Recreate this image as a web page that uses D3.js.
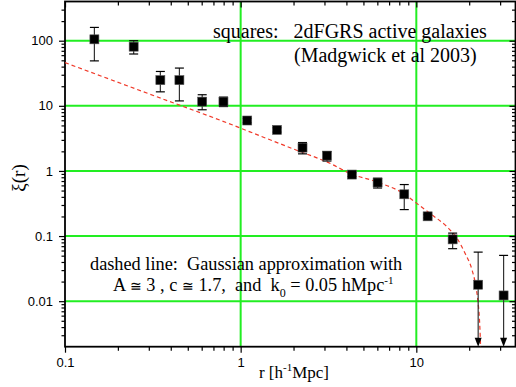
<!DOCTYPE html>
<html>
<head>
<meta charset="utf-8">
<script src="https://cdn.jsdelivr.net/npm/d3@7"></script>
<style>
  body { margin: 0; background: #fff; }
  svg { display: block; }
  .tick text { font-family: "Liberation Sans", Arial, sans-serif; font-size: 13px; fill: #000; }
  .serif { font-family: "Liberation Serif", "Times New Roman", serif; fill: #000; white-space: pre; }
</style>
</head>
<body>
<div id="chart"></div>
<script>
// squares: 2dFGRS active galaxies (Madgwick et al 2003)
const rVals  = [0.147, 0.246, 0.349, 0.448, 0.604, 0.798, 1.09, 1.61, 2.25, 3.10, 4.30, 6.02, 8.54, 11.6, 16.1, 22.5, 31.4];
const xiVals = [105, 81, 24.8, 24.8, 11.6, 11.6, 5.95, 4.27, 2.28, 1.72, 0.88, 0.664, 0.438, 0.201, 0.089, 0.0179, 0.01225];
const xiHi   = [160, 100, 33.7, 38, 14.8, 13.6, 6.4, 4.6, 2.73, 1.98, 0.94, 0.772, 0.618, 0.213, 0.111, 0.0567, 0.0505];
const xiLo   = [49, 62.5, 16.4, 11.9, 8.7, 9.75, 5.5, 3.95, 1.83, 1.42, 0.82, 0.547, 0.255, 0.19, 0.064, null, null]; // null = arrow down

// dashed line: gaussian approximation
const fitR  = [0.1, 0.3, 1.0, 1.13, 2.0, 3.24, 4.21, 5.97, 8.47, 10.1, 12.0, 15.0, 17.1, 19.0, 20.8, 21.7, 22.4, 22.9, 23.2, 23.3];
const fitXi = [46, 15.3, 4.54, 3.98, 2.17, 1.30, 0.912, 0.678, 0.449, 0.315, 0.221, 0.1375, 0.0912, 0.0536, 0.0297, 0.0185, 0.0103, 0.00505, 0.0022, 0.0015];

// ticks
const xMajor = [0.1, 1, 10];
const yMajor = [0.01, 0.1, 1, 10, 100];

var width = 516, height = 387;
var pLeft = 65, pRight = 515.5, pTop = 1.5, pBottom = 346.7;

var x = d3.scaleLog().domain([0.1, 36.7]).range([pLeft, pRight]);
var y = d3.scaleLog().domain([0.002, 400]).range([pBottom, pTop]);

// minor ticks: 2..9 of each decade inside the domain
function minors(scale) {
  var dom = scale.domain(), out = [];
  for (var e = -4; e <= 3; e++) {
    for (var m = 2; m <= 9; m++) {
      var v = m * Math.pow(10, e);
      if (v > dom[0] * 1.0001 && v < dom[1] * 0.9999) out.push(v);
    }
  }
  return out;
}

var svg = d3.select("#chart").append("svg")
  .attr("width", width)
  .attr("height", height);

svg.append("defs").append("clipPath").attr("id", "plot")
  .append("rect")
  .attr("x", pLeft).attr("y", pTop)
  .attr("width", pRight - pLeft).attr("height", pBottom - pTop);

// green grid
var grid = svg.append("g");
grid.selectAll(".gx").data([1, 10]).enter().append("line")
  .attr("x1", d => x(d)).attr("x2", d => x(d))
  .attr("y1", pTop).attr("y2", pBottom)
  .attr("stroke", "#22ee22").attr("stroke-width", 2);
grid.selectAll(".gy").data(yMajor).enter().append("line")
  .attr("x1", pLeft).attr("x2", pRight)
  .attr("y1", d => y(d)).attr("y2", d => y(d))
  .attr("stroke", "#22ee22").attr("stroke-width", 2);

// axes
function styleAxis(g) {
  g.select(".domain").remove();
  g.selectAll(".tick line").attr("stroke", "#000").attr("stroke-width", 1.2);
}
var fmt = d => String(d);

svg.append("g").attr("transform", "translate(0," + pBottom + ")")
  .call(d3.axisBottom(x).tickValues(xMajor).tickFormat(fmt).tickSize(6).tickPadding(5)).call(styleAxis);
svg.append("g").attr("transform", "translate(0," + pBottom + ")")
  .call(d3.axisBottom(x).tickValues(minors(x)).tickFormat("").tickSize(4)).call(styleAxis);
svg.append("g").attr("transform", "translate(0," + pTop + ")")
  .call(d3.axisBottom(x).tickValues(xMajor).tickFormat("").tickSize(6)).call(styleAxis);
svg.append("g").attr("transform", "translate(0," + pTop + ")")
  .call(d3.axisBottom(x).tickValues(minors(x)).tickFormat("").tickSize(4)).call(styleAxis);

svg.append("g").attr("transform", "translate(" + pLeft + ",0)")
  .call(d3.axisLeft(y).tickValues(yMajor).tickFormat(fmt).tickSize(6).tickPadding(6)).call(styleAxis);
svg.append("g").attr("transform", "translate(" + pLeft + ",0)")
  .call(d3.axisLeft(y).tickValues(minors(y)).tickFormat("").tickSize(3.5)).call(styleAxis);
svg.append("g").attr("transform", "translate(" + pRight + ",0)")
  .call(d3.axisLeft(y).tickValues(yMajor).tickFormat("").tickSize(6)).call(styleAxis);
svg.append("g").attr("transform", "translate(" + pRight + ",0)")
  .call(d3.axisLeft(y).tickValues(minors(y)).tickFormat("").tickSize(3.5)).call(styleAxis);

// frame
svg.append("rect")
  .attr("x", pLeft).attr("y", pTop)
  .attr("width", pRight - pLeft).attr("height", pBottom - pTop)
  .attr("fill", "none").attr("stroke", "#000").attr("stroke-width", 1.8);

// dashed fit line
var line = d3.line()
  .x(d => x(d[0]))
  .y(d => y(d[1]))
  .curve(d3.curveMonotoneX);
svg.append("path")
  .datum(fitR.map((r, i) => [r, fitXi[i]]))
  .attr("clip-path", "url(#plot)")
  .attr("d", line)
  .attr("fill", "none")
  .attr("stroke", "#f03a2a")
  .attr("stroke-width", 1.2)
  .attr("stroke-dasharray", "4,3");

// error bars
var pts = rVals.map((r, i) => ({ r: r, xi: xiVals[i], hi: xiHi[i], lo: xiLo[i] }));
var eb = svg.append("g").selectAll("g").data(pts).enter().append("g");
eb.append("line")
  .attr("x1", d => x(d.r)).attr("x2", d => x(d.r))
  .attr("y1", d => y(d.hi))
  .attr("y2", d => d.lo == null ? pBottom - 6 : y(d.lo))
  .attr("stroke", "#333").attr("stroke-width", 1.2);
eb.append("line")
  .attr("x1", d => x(d.r) - 4.5).attr("x2", d => x(d.r) + 4.5)
  .attr("y1", d => y(d.hi)).attr("y2", d => y(d.hi))
  .attr("stroke", "#000").attr("stroke-width", 1.2);
eb.filter(d => d.lo != null).append("line")
  .attr("x1", d => x(d.r) - 4.5).attr("x2", d => x(d.r) + 4.5)
  .attr("y1", d => y(d.lo)).attr("y2", d => y(d.lo))
  .attr("stroke", "#000").attr("stroke-width", 1.2);
eb.filter(d => d.lo == null).append("path")
  .attr("d", d => {
    var cx = x(d.r);
    return "M" + (cx - 3.5) + "," + (pBottom - 9) + "L" + (cx + 3.5) + "," + (pBottom - 9) + "L" + cx + "," + pBottom + "Z";
  })
  .attr("fill", "#000");

// squares
svg.append("g").selectAll("rect").data(pts).enter().append("rect")
  .attr("x", d => x(d.r) - 4.5)
  .attr("y", d => y(d.xi) - 4.5)
  .attr("width", 9).attr("height", 9)
  .attr("fill", "#000")
  .attr("stroke", "#555").attr("stroke-width", 0.6);

// axis titles
var xt = svg.append("text").attr("class", "serif")
  .attr("x", 294).attr("y", 378).attr("text-anchor", "middle")
  .style("font-size", "17px");
xt.append("tspan").text("r [h");
xt.append("tspan").attr("dy", -7).style("font-size", "11px").text("-1");
xt.append("tspan").attr("dy", 7).text("Mpc]");

svg.append("text").attr("class", "serif")
  .attr("transform", "translate(25,178) rotate(-90)")
  .attr("text-anchor", "middle")
  .style("font-size", "19px")
  .text("ξ(r)");

// annotations
svg.append("text").attr("class", "serif")
  .attr("x", 213).attr("y", 37.5).style("font-size", "20px")
  .text("squares:   2dFGRS active galaxies");
svg.append("text").attr("class", "serif")
  .attr("x", 294).attr("y", 62).style("font-size", "20px")
  .text("(Madgwick et al 2003)");

svg.append("text").attr("class", "serif")
  .attr("x", 90).attr("y", 270).style("font-size", "18.3px")
  .text("dashed line:  Gaussian approximation with");
var t2 = svg.append("text").attr("class", "serif")
  .attr("x", 113).attr("y", 291).style("font-size", "18.3px");
t2.append("tspan").text("A ");
t2.append("tspan").style("font-size", "14px").text("≅");
t2.append("tspan").text(" 3 , c ");
t2.append("tspan").style("font-size", "14px").text("≅");
t2.append("tspan").text(" 1.7,  and  k");
t2.append("tspan").attr("dy", 6).style("font-size", "12px").text("0");
t2.append("tspan").attr("dy", -6).text(" = 0.05 hMpc");
t2.append("tspan").attr("dy", -7).style("font-size", "11px").text("-1");
</script>
</body>
</html>
